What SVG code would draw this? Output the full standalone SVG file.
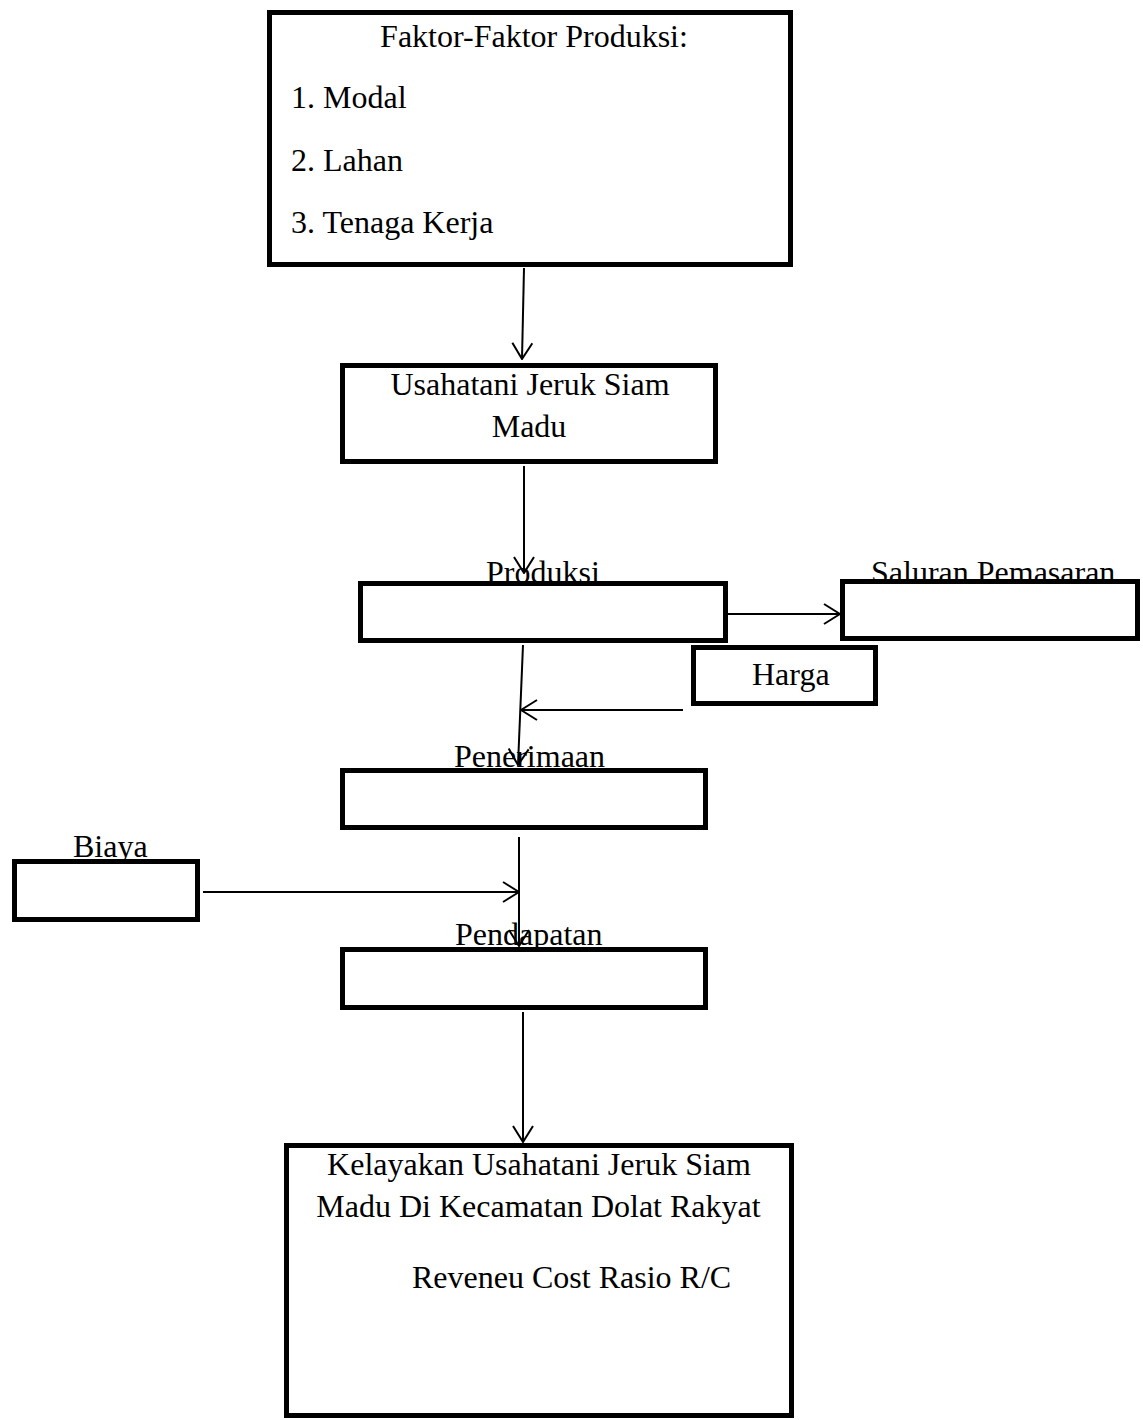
<svg xmlns="http://www.w3.org/2000/svg" width="1143" height="1420" viewBox="0 0 1143 1420">
<style>
.box{fill:#fff;stroke:#000;stroke-width:5}
.t{font-family:"Liberation Serif","Times New Roman",serif;font-size:32px;fill:#000}
.c{text-anchor:middle}
.con{fill:none;stroke:#000;stroke-width:2}
</style>
<defs>
<marker id="arr" markerUnits="userSpaceOnUse" viewBox="0 0 18 22" refX="17" refY="11" markerWidth="18" markerHeight="22" orient="auto">
<path d="M1,1 L17,11 L1,21" fill="none" stroke="#000" stroke-width="2"/>
</marker>
</defs>
<rect width="1143" height="1420" fill="#fff"/>
<g id="node-faktor">
<rect class="box" x="269.5" y="12.5" width="521" height="252"/>
<text class="t c" x="534" y="47">Faktor-Faktor Produksi:</text>
<text class="t" x="291" y="108">1. Modal</text>
<text class="t" x="291" y="171">2. Lahan</text>
<text class="t" x="291" y="233">3. Tenaga Kerja</text>
</g>
<g id="node-usahatani">
<rect class="box" x="342.5" y="365.5" width="373" height="96"/>
<text class="t c" x="530" y="395">Usahatani Jeruk Siam</text>
<text class="t c" x="529" y="437">Madu</text>
</g>
<g id="node-produksi">
<rect class="box" x="360.5" y="583.5" width="365" height="57"/>
<text class="t" x="486" y="583">Produksi</text>
</g>
<g id="node-saluran">
<rect class="box" x="842.5" y="581.5" width="295" height="57"/>
<text class="t" x="871" y="583">Saluran Pemasaran</text>
</g>
<g id="node-harga">
<rect class="box" x="693.5" y="647.5" width="182" height="56"/>
<text class="t" x="752" y="685">Harga</text>
</g>
<g id="node-penerimaan">
<rect class="box" x="342.5" y="770.5" width="363" height="57"/>
<text class="t" x="454" y="767">Penerimaan</text>
</g>
<g id="node-biaya">
<rect class="box" x="14.5" y="861.5" width="183" height="58"/>
<text class="t" x="73" y="857">Biaya</text>
</g>
<g id="node-pendapatan">
<rect class="box" x="342.5" y="949.5" width="363" height="58"/>
<text class="t" x="455" y="945">Pendapatan</text>
</g>
<g id="node-kelayakan">
<rect class="box" x="286.5" y="1145.5" width="505" height="270"/>
<text class="t c" x="539" y="1175">Kelayakan Usahatani Jeruk Siam</text>
<text class="t c" x="538.5" y="1217">Madu Di Kecamatan Dolat Rakyat</text>
<text class="t" x="412" y="1288">Reveneu Cost Rasio R/C</text>
</g>
<g id="connectors">
<path class="con" d="M524,268 L522,359" marker-end="url(#arr)"/>
<path class="con" d="M524,466 L524,573" marker-end="url(#arr)"/>
<path class="con" d="M728,614 L840,614" marker-end="url(#arr)"/>
<path class="con" d="M683,710 L521,710" marker-end="url(#arr)"/>
<path class="con" d="M523,645 L518,765" marker-end="url(#arr)"/>
<path class="con" d="M519,837 L519,946" marker-end="url(#arr)"/>
<path class="con" d="M203,892 L519,892" marker-end="url(#arr)"/>
<path class="con" d="M523,1012 L523,1142" marker-end="url(#arr)"/>
</g>
</svg>
